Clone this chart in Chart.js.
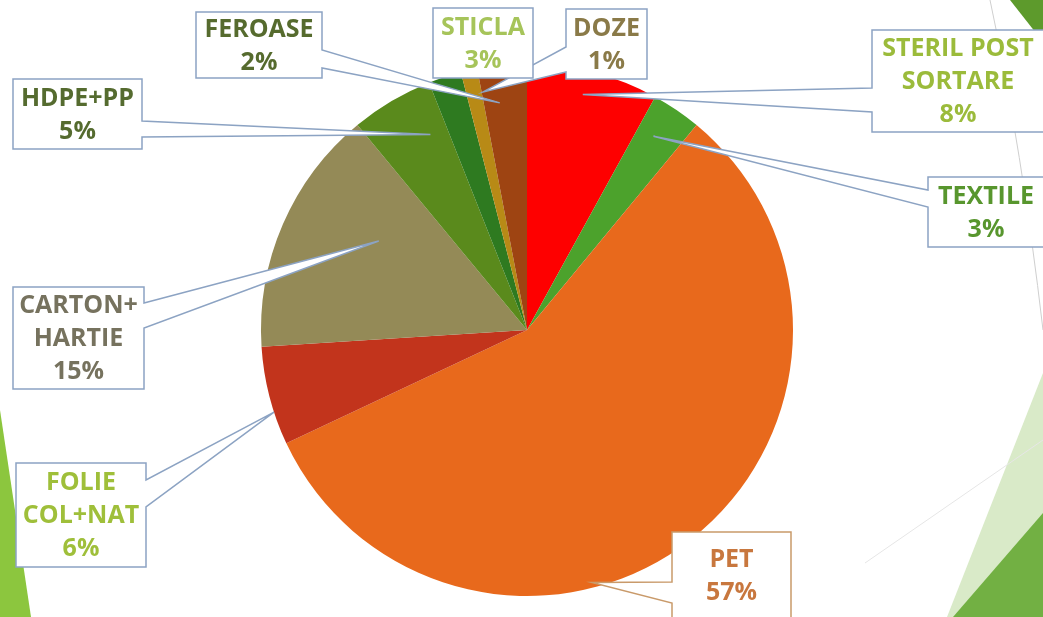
<!DOCTYPE html>
<html>
<head>
<meta charset="utf-8">
<script src="https://cdn.jsdelivr.net/npm/chart.js@4"></script>
<style>
  html, body { margin: 0; padding: 0; background: #ffffff; }
  #wrap { width: 1043px; height: 617px; position: relative; }
</style>
</head>
<body>
<div id="wrap"><canvas id="pieChart" width="1043" height="617"></canvas></div>
<script>
// --- データ ---
const categories = [
  ["STERIL POST", "SORTARE"], ["TEXTILE"], ["PET"], ["FOLIE", "COL+NAT"],
  ["CARTON+", "HARTIE"], ["HDPE+PP"], ["FEROASE"], ["DOZE"], ["STICLA"]
];
const percents = [8, 3, 57, 6, 15, 5, 2, 1, 3];

// --- 色 ---
const sliceColors = ["#fe0000", "#4ca22c", "#e8691c", "#c2341c", "#948a57",
                     "#5a8a1c", "#2e7a20", "#b88a16", "#9e4412"];
const textColors = ["#9bbb3b", "#58962e", "#c8773e", "#9fbf3a", "#76725e",
                    "#556b2f", "#566b2e", "#8a7a48", "#a6c45a"];

// ラベル枠の配置 (吹き出し). tip: 円周上の位置% と半径比
const calloutLayout = [
  { x: 872, y: 30, w: 172, h: 102, side: "left", base: [88, 112], tip: { a: 3.7, r: 0.91 } },
  { x: 928, y: 177, w: 116, h: 70, side: "left", base: [190, 207], tip: { a: 9.2, r: 0.87 } },
  { x: 672, y: 532, w: 119, h: 86, side: "left", base: [582, 603], tip: { a: 46, r: 0.98 }, border: "#c99a6a" },
  { x: 16, y: 463, w: 130, h: 104, side: "right", base: [480, 507], tip: { a: 70, r: 1.0 } },
  { x: 13, y: 287, w: 131, h: 102, side: "right", base: [303, 328], tip: { a: 83.6, r: 0.65 } },
  { x: 13, y: 79, w: 129, h: 70, side: "right", base: [121, 137], tip: { a: 92.7, r: 0.82 } },
  { x: 196, y: 12, w: 126, h: 66, side: "right", base: [50, 68], tip: { a: 98.1, r: 0.86 } },
  { x: 566, y: 9, w: 81, h: 70, side: "left", base: [47, 72], tip: { a: 97.1, r: 0.91 } },
  { x: 433, y: 8, w: 100, h: 70, side: null }
];

// --- 背景の飾り ---
const backgroundDecor = {
  id: "backgroundDecor",
  beforeDraw(chart) {
    const ctx = chart.ctx;
    ctx.save();
    ctx.fillStyle = "#ffffff";
    ctx.fillRect(0, 0, chart.width, chart.height);
    const poly = (pts, color) => {
      ctx.beginPath();
      pts.forEach((p, i) => i ? ctx.lineTo(p[0], p[1]) : ctx.moveTo(p[0], p[1]));
      ctx.closePath();
      ctx.fillStyle = color;
      ctx.fill();
    };
    poly([[0, 410], [31, 617], [0, 617]], "#8cc63e");
    poly([[1010, 0], [1043, 0], [1043, 42]], "#5d9a2c");
    poly([[947, 617], [1043, 373], [1043, 617]], "#d9eac8");
    poly([[953, 617], [1043, 513], [1043, 617]], "#72b043");
    ctx.strokeStyle = "#cfcfcf";
    ctx.lineWidth = 1;
    ctx.beginPath();
    ctx.moveTo(990, 0);
    ctx.quadraticCurveTo(1022, 150, 1043, 330);
    ctx.stroke();
    ctx.strokeStyle = "#e6e6e6";
    ctx.beginPath();
    ctx.moveTo(865, 563);
    ctx.lineTo(1043, 440);
    ctx.stroke();
    ctx.restore();
  }
};

// --- 吹き出しラベル ---
const calloutLabels = {
  id: "calloutLabels",
  afterDatasetsDraw(chart) {
    const ctx = chart.ctx;
    const arcs = chart.getDatasetMeta(0).data;
    const cx = arcs[0].x, cy = arcs[0].y, R = arcs[0].outerRadius;
    const values = chart.data.datasets[0].data;
    const total = values.reduce((a, b) => a + b, 0);
    ctx.save();
    calloutLayout.forEach((b, i) => {
      const x0 = b.x, y0 = b.y, x1 = b.x + b.w, y1 = b.y + b.h;
      ctx.beginPath();
      if (b.side) {
        const ang = -Math.PI / 2 + b.tip.a / 100 * Math.PI * 2;
        const tx = cx + Math.cos(ang) * R * b.tip.r;
        const ty = cy + Math.sin(ang) * R * b.tip.r;
        if (b.side === "left") {
          ctx.moveTo(x0, y0); ctx.lineTo(x1, y0); ctx.lineTo(x1, y1); ctx.lineTo(x0, y1);
          ctx.lineTo(x0, b.base[1]); ctx.lineTo(tx, ty); ctx.lineTo(x0, b.base[0]);
        } else {
          ctx.moveTo(x0, y0); ctx.lineTo(x1, y0); ctx.lineTo(x1, b.base[0]);
          ctx.lineTo(tx, ty); ctx.lineTo(x1, b.base[1]); ctx.lineTo(x1, y1); ctx.lineTo(x0, y1);
        }
      } else {
        ctx.rect(x0, y0, b.w, b.h);
      }
      ctx.closePath();
      ctx.fillStyle = "#ffffff";
      ctx.fill();
      ctx.lineWidth = 1.5;
      ctx.strokeStyle = b.border || "#8ca3c3";
      ctx.stroke();

      const pct = Math.round(values[i] / total * 100) + "%";
      const lines = chart.data.labels[i].concat([pct]);
      const lh = 33;
      const midX = (x0 + x1) / 2;
      let ly = (y0 + y1) / 2 - (lines.length - 1) * lh / 2;
      ctx.font = "bold 25px 'Open Sans', 'DejaVu Sans', sans-serif";
      ctx.fillStyle = textColors[i];
      ctx.textAlign = "center";
      ctx.textBaseline = "middle";
      lines.forEach(t => { ctx.fillText(t, midX, ly + 1); ly += lh; });
    });
    ctx.restore();
  }
};

new Chart(document.getElementById("pieChart").getContext("2d"), {
  type: "pie",
  data: {
    labels: categories,
    datasets: [{ data: percents, backgroundColor: sliceColors, borderWidth: 0 }]
  },
  options: {
    responsive: false,
    animation: false,
    layout: { padding: { top: 64, bottom: 21, left: 11, right: 0 } },
    plugins: {
      legend: { display: false },
      tooltip: { enabled: false },
      title: { display: false }
    }
  },
  plugins: [backgroundDecor, calloutLabels]
});
</script>
</body>
</html>
